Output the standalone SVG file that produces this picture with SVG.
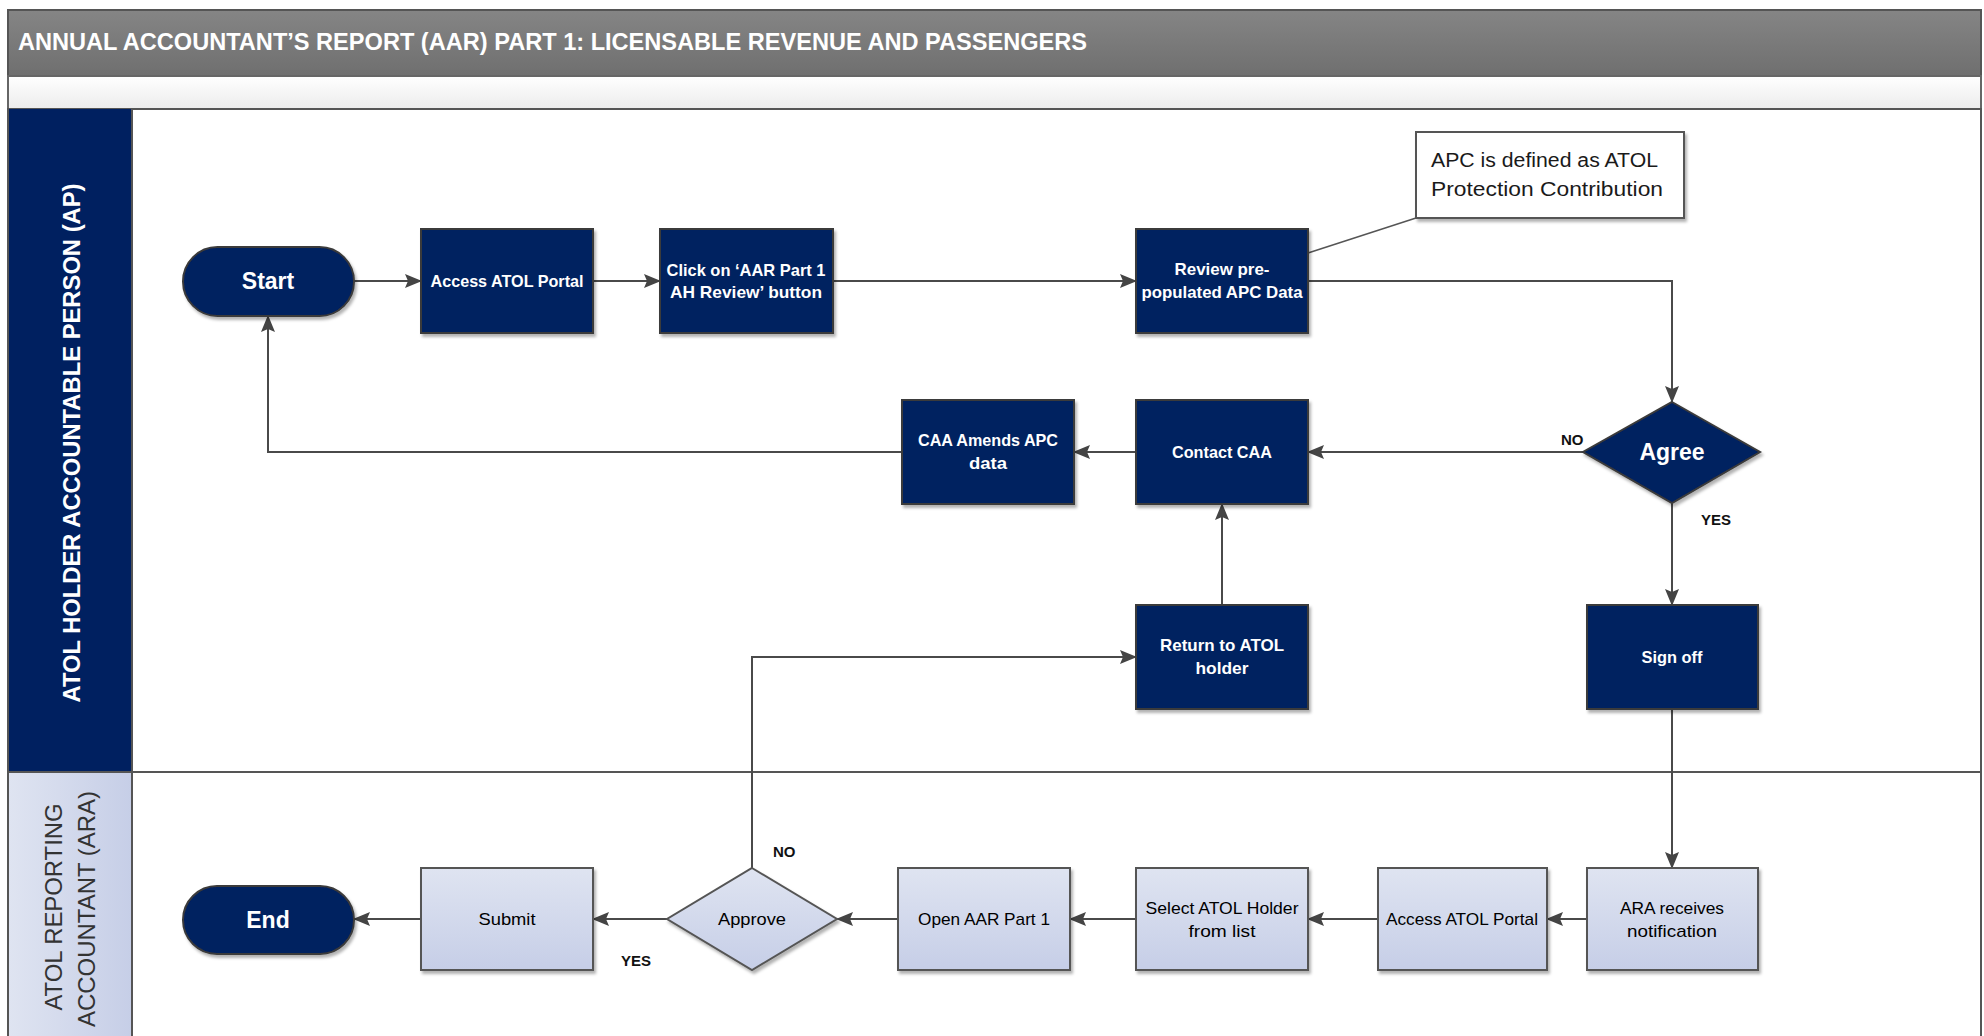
<svg xmlns="http://www.w3.org/2000/svg" width="1984" height="1036" viewBox="0 0 1984 1036">
<defs>
<linearGradient id="gTitle" x1="0" y1="0" x2="0" y2="1"><stop offset="0" stop-color="#858585"/><stop offset="1" stop-color="#6f6f6f"/></linearGradient>
<linearGradient id="gBand" x1="0" y1="0" x2="0" y2="1"><stop offset="0" stop-color="#ffffff"/><stop offset="1" stop-color="#ececec"/></linearGradient>
<linearGradient id="gLight" x1="0" y1="0" x2="0" y2="1"><stop offset="0" stop-color="#dfe4f1"/><stop offset="1" stop-color="#c6cee7"/></linearGradient>
<linearGradient id="gLane2" x1="0" y1="0" x2="1" y2="0"><stop offset="0" stop-color="#dfe4f1"/><stop offset="1" stop-color="#c6cee7"/></linearGradient>
<filter id="sh" x="-10%" y="-10%" width="130%" height="130%"><feDropShadow dx="2" dy="3" stdDeviation="1.5" flood-color="#000" flood-opacity="0.3"/></filter>
<marker id="ah" markerUnits="userSpaceOnUse" markerWidth="17" markerHeight="14" refX="16" refY="7" orient="auto"><path d="M0,0 L17,7 L0,14 L3,7 z" fill="#444"/></marker>
<style>
.dark{fill:#002060;stroke:#3a3a3a;stroke-width:2;filter:url(#sh)}
.light{fill:url(#gLight);stroke:#555;stroke-width:2;filter:url(#sh)}
.tw{font-family:"Liberation Sans",Arial,sans-serif;font-weight:bold;fill:#fff;font-size:17px;text-anchor:middle}
.tb{font-family:"Liberation Sans",Arial,sans-serif;fill:#000;font-size:17px;text-anchor:middle}
.big{font-size:23px}
.lbl{font-family:"Liberation Sans",Arial,sans-serif;font-weight:bold;fill:#111;font-size:15px}
.conn{fill:none;stroke:#4a4a4a;stroke-width:2}
</style>
</defs>
<rect x="0" y="0" width="1984" height="1036" fill="#fff"/>
<g id="frame">
<rect x="8" y="10" width="1973" height="66" fill="url(#gTitle)" stroke="#555" stroke-width="2"/>
<text x="18" y="50" font-family="Liberation Sans,Arial,sans-serif" font-weight="bold" font-size="24" fill="#fff" textLength="1069" lengthAdjust="spacingAndGlyphs">ANNUAL ACCOUNTANT’S REPORT (AAR) PART 1: LICENSABLE REVENUE AND PASSENGERS</text>
<rect x="8" y="76" width="1973" height="33" fill="url(#gBand)" stroke="#666" stroke-width="2"/>
<rect x="8" y="109" width="1973" height="940" fill="#fff" stroke="#555" stroke-width="2"/>
</g>
<g id="lane-ap">
<rect x="9" y="109" width="123" height="663" fill="#002060"/>
<text transform="translate(80,443) rotate(-90)" text-anchor="middle" font-family="Liberation Sans,Arial,sans-serif" font-weight="bold" font-size="24" fill="#fff" textLength="519" lengthAdjust="spacingAndGlyphs">ATOL HOLDER ACCOUNTABLE PERSON (AP)</text>
</g>
<g id="lane-ara">
<rect x="9" y="772" width="123" height="270" fill="url(#gLane2)"/>
<text transform="translate(62,907) rotate(-90)" text-anchor="middle" font-family="Liberation Sans,Arial,sans-serif" font-size="24" fill="#333" textLength="207" lengthAdjust="spacingAndGlyphs">ATOL REPORTING</text>
<text transform="translate(95,909) rotate(-90)" text-anchor="middle" font-family="Liberation Sans,Arial,sans-serif" font-size="24" fill="#333" textLength="236" lengthAdjust="spacingAndGlyphs">ACCOUNTANT (ARA)</text>
</g>
<g id="lane-lines" stroke="#555" stroke-width="2">
<line x1="132" y1="109" x2="132" y2="1036"/>
<line x1="8" y1="772" x2="1981" y2="772"/>
</g>
<g id="connectors">
<path class="conn" d="M354,281 H421" marker-end="url(#ah)"/>
<path class="conn" d="M593,281 H660" marker-end="url(#ah)"/>
<path class="conn" d="M833,281 H1136" marker-end="url(#ah)"/>
<path class="conn" d="M1308,281 H1672 V402" marker-end="url(#ah)"/>
<path class="conn" d="M1583,452 H1308" marker-end="url(#ah)"/>
<path class="conn" d="M1136,452 H1074" marker-end="url(#ah)"/>
<path class="conn" d="M902,452 H268 V316" marker-end="url(#ah)"/>
<path class="conn" d="M1672,503 V605" marker-end="url(#ah)"/>
<path class="conn" d="M1672,709 V868" marker-end="url(#ah)"/>
<path class="conn" d="M1587,919 H1547" marker-end="url(#ah)"/>
<path class="conn" d="M1378,919 H1308" marker-end="url(#ah)"/>
<path class="conn" d="M1136,919 H1070" marker-end="url(#ah)"/>
<path class="conn" d="M898,919 H837" marker-end="url(#ah)"/>
<path class="conn" d="M667,919 H593" marker-end="url(#ah)"/>
<path class="conn" d="M421,919 H354" marker-end="url(#ah)"/>
<path class="conn" d="M752,868 V657 H1136" marker-end="url(#ah)"/>
<path class="conn" d="M1222,605 V504" marker-end="url(#ah)"/>
<path d="M1308,253 L1416,218" fill="none" stroke="#555" stroke-width="1.5"/>
<text class="lbl" x="1561" y="445">NO</text>
<text class="lbl" x="1701" y="525">YES</text>
<text class="lbl" x="773" y="857">NO</text>
<text class="lbl" x="621" y="966">YES</text>
</g>
<g id="n-start"><rect class="dark" x="183" y="247" width="171" height="69" rx="34.5"/><text class="tw big" x="268" y="289">Start</text></g>
<g id="n-access-ap"><rect class="dark" x="421" y="229" width="172" height="104"/><text class="tw" x="507" y="287" textLength="153" lengthAdjust="spacingAndGlyphs">Access ATOL Portal</text></g>
<g id="n-click"><rect class="dark" x="660" y="229" width="173" height="104"/><text class="tw" x="746" y="276" textLength="159" lengthAdjust="spacingAndGlyphs">Click on ‘AAR Part 1</text><text class="tw" x="746" y="298" textLength="152" lengthAdjust="spacingAndGlyphs">AH Review’ button</text></g>
<g id="n-review"><rect class="dark" x="1136" y="229" width="172" height="104"/><text class="tw" x="1222" y="275" textLength="95" lengthAdjust="spacingAndGlyphs">Review pre-</text><text class="tw" x="1222" y="298" textLength="161" lengthAdjust="spacingAndGlyphs">populated APC Data</text></g>
<g id="n-note"><rect x="1416" y="132" width="268" height="86" fill="#fff" stroke="#555" stroke-width="2" filter="url(#sh)"/><text x="1431" y="167" font-family="Liberation Sans,Arial,sans-serif" font-size="20" fill="#1a1a1a" textLength="227" lengthAdjust="spacingAndGlyphs">APC is defined as ATOL</text><text x="1431" y="196" font-family="Liberation Sans,Arial,sans-serif" font-size="20" fill="#1a1a1a" textLength="232" lengthAdjust="spacingAndGlyphs">Protection Contribution</text></g>
<g id="n-agree"><polygon class="dark" points="1672,402 1760,452 1672,503 1583,452"/><text class="tw big" x="1672" y="460">Agree</text></g>
<g id="n-contact"><rect class="dark" x="1136" y="400" width="172" height="104"/><text class="tw" x="1222" y="458" textLength="100" lengthAdjust="spacingAndGlyphs">Contact CAA</text></g>
<g id="n-amends"><rect class="dark" x="902" y="400" width="172" height="104"/><text class="tw" x="988" y="446" textLength="140" lengthAdjust="spacingAndGlyphs">CAA Amends APC</text><text class="tw" x="988" y="469" textLength="38" lengthAdjust="spacingAndGlyphs">data</text></g>
<g id="n-return"><rect class="dark" x="1136" y="605" width="172" height="104"/><text class="tw" x="1222" y="651" textLength="124" lengthAdjust="spacingAndGlyphs">Return to ATOL</text><text class="tw" x="1222" y="674" textLength="53" lengthAdjust="spacingAndGlyphs">holder</text></g>
<g id="n-signoff"><rect class="dark" x="1587" y="605" width="171" height="104"/><text class="tw" x="1672" y="663" textLength="61" lengthAdjust="spacingAndGlyphs">Sign off</text></g>
<g id="n-ara"><rect class="light" x="1587" y="868" width="171" height="102"/><text class="tb" x="1672" y="914" textLength="104" lengthAdjust="spacingAndGlyphs">ARA receives</text><text class="tb" x="1672" y="937" textLength="90" lengthAdjust="spacingAndGlyphs">notification</text></g>
<g id="n-access-ara"><rect class="light" x="1378" y="868" width="169" height="102"/><text class="tb" x="1462" y="925" textLength="152" lengthAdjust="spacingAndGlyphs">Access ATOL Portal</text></g>
<g id="n-select"><rect class="light" x="1136" y="868" width="172" height="102"/><text class="tb" x="1222" y="914" textLength="153" lengthAdjust="spacingAndGlyphs">Select ATOL Holder</text><text class="tb" x="1222" y="937" textLength="67" lengthAdjust="spacingAndGlyphs">from list</text></g>
<g id="n-open"><rect class="light" x="898" y="868" width="172" height="102"/><text class="tb" x="984" y="925" textLength="132" lengthAdjust="spacingAndGlyphs">Open AAR Part 1</text></g>
<g id="n-approve"><polygon class="light" points="752,868 837,919 752,970 667,919"/><text class="tb" x="752" y="925" textLength="68" lengthAdjust="spacingAndGlyphs">Approve</text></g>
<g id="n-submit"><rect class="light" x="421" y="868" width="172" height="102"/><text class="tb" x="507" y="925" textLength="57" lengthAdjust="spacingAndGlyphs">Submit</text></g>
<g id="n-end"><rect class="dark" x="183" y="886" width="171" height="68" rx="34"/><text class="tw big" x="268" y="928">End</text></g>
</svg>
